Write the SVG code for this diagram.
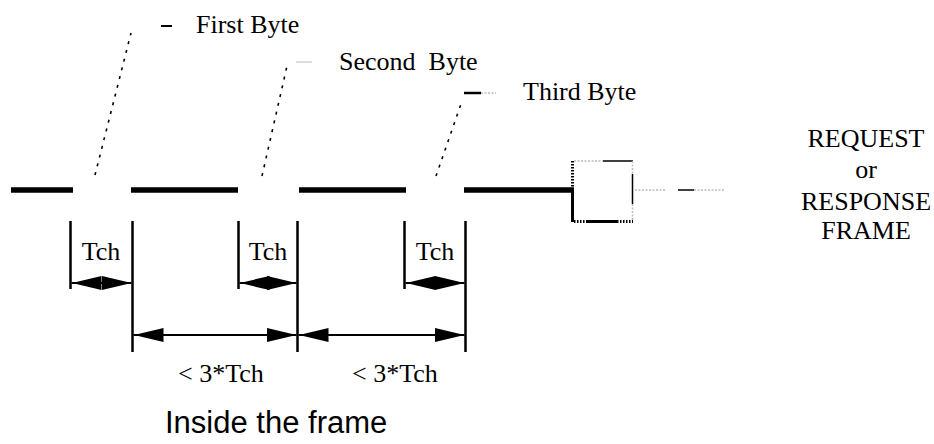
<svg xmlns="http://www.w3.org/2000/svg" width="934" height="444" viewBox="0 0 934 444">
<style>
.serif{font-family:"Liberation Serif","Times New Roman",serif;font-size:26px;fill:#000}
.sans{font-family:"Liberation Sans",Arial,sans-serif;font-size:31px;fill:#000}
.bar{stroke:#000;stroke-width:5.5;fill:none}
.dim{stroke:#000;stroke-width:2.5;fill:none}
.arr{stroke:#000;stroke-width:2;fill:none;marker-start:url(#ah);marker-end:url(#ah)}
.diag{stroke:#000;stroke-width:1.6;fill:none;stroke-dasharray:3 6}
.blk{stroke:#000;fill:none}
.gry{stroke:#bbb;fill:none;stroke-width:1.5;stroke-dasharray:2 1.5}
.hatch{stroke:#000;fill:none;stroke-width:3;stroke-dasharray:1.5 1.5}
</style>
<defs>
<marker id="ah" markerUnits="userSpaceOnUse" markerWidth="30" markerHeight="14" refX="30" refY="7" orient="auto-start-reverse" viewBox="0 0 30 14">
<path d="M0,0 L30,7 L0,14 z" fill="#000"/>
</marker>
</defs>
<rect width="934" height="444" fill="#fff"/>

<g id="signal-line">
<line class="bar" x1="11" y1="190" x2="73" y2="190"/>
<line class="bar" x1="131" y1="190" x2="238" y2="190"/>
<line class="bar" x1="299" y1="190" x2="406" y2="190"/>
<line class="bar" x1="464" y1="190" x2="574" y2="190"/>
</g>

<g id="frame-box">
<line class="hatch" x1="572.5" y1="161" x2="572.5" y2="190"/>
<line class="blk" stroke-width="3" x1="572.5" y1="188" x2="572.5" y2="222"/>
<line class="gry" x1="574" y1="161" x2="603" y2="161"/>
<line class="blk" stroke-width="1.5" x1="603" y1="161" x2="633" y2="161"/>
<line class="gry" x1="632.5" y1="161" x2="632.5" y2="174"/>
<line class="blk" stroke-width="1.5" x1="632.5" y1="174" x2="632.5" y2="204"/>
<line class="gry" x1="632.5" y1="204" x2="632.5" y2="222"/>
<line class="hatch" x1="574" y1="221.5" x2="587" y2="221.5"/>
<line class="blk" stroke-width="3" x1="587" y1="221.5" x2="617" y2="221.5"/>
<line class="hatch" x1="617" y1="221.5" x2="633" y2="221.5"/>
<line class="gry" x1="635" y1="190" x2="666" y2="190"/>
<line class="blk" stroke-width="1.5" x1="678" y1="190" x2="694" y2="190"/>
<line class="gry" x1="694" y1="190" x2="725" y2="190"/>
</g>

<g id="byte-labels">
<g id="first-byte">
<line class="diag" x1="95" y1="175" x2="131" y2="33"/>
<line class="blk" stroke-width="2" x1="161" y1="26" x2="172" y2="26"/>
<text class="serif" x="196" y="33">First Byte</text>
</g>
<g id="second-byte">
<line class="diag" x1="262" y1="176" x2="287" y2="66"/>
<line stroke="#bbb" stroke-width="1" x1="296" y1="62" x2="312" y2="62"/>
<text class="serif" x="339" y="70" xml:space="preserve">Second  Byte</text>
</g>
<g id="third-byte">
<line class="diag" x1="436" y1="176" x2="462" y2="101"/>
<line class="blk" stroke-width="2.5" x1="464" y1="93" x2="481" y2="93"/>
<line class="gry" x1="481" y1="93" x2="496" y2="93"/>
<text class="serif" x="523" y="100">Third Byte</text>
</g>
</g>

<g id="frame-label">
<text class="serif" text-anchor="middle" x="866" y="147">REQUEST</text>
<text class="serif" text-anchor="middle" x="866" y="178">or</text>
<text class="serif" text-anchor="middle" x="866" y="210">RESPONSE</text>
<text class="serif" text-anchor="middle" x="866" y="239">FRAME</text>
</g>

<g id="dimension-lines">
<line class="dim" x1="70.5" y1="221" x2="70.5" y2="289"/>
<line class="dim" x1="132.5" y1="221" x2="132.5" y2="352"/>
<line class="dim" x1="238.5" y1="221" x2="238.5" y2="289"/>
<line class="dim" x1="297.5" y1="221" x2="297.5" y2="352"/>
<line class="dim" x1="404.5" y1="221" x2="404.5" y2="289"/>
<line class="dim" x1="465.5" y1="221" x2="465.5" y2="352"/>
</g>

<g id="connectors">
<line class="arr" x1="71.5" y1="283" x2="131.5" y2="283"/>
<line class="arr" x1="239.5" y1="283" x2="296.5" y2="283"/>
<line class="arr" x1="405.5" y1="283" x2="464.5" y2="283"/>
<line class="arr" x1="133.5" y1="335" x2="296.5" y2="335"/>
<line class="arr" x1="298.5" y1="335" x2="464.5" y2="335"/>
</g>

<g id="timing-labels">
<text class="serif" text-anchor="middle" x="101" y="260">Tch</text>
<text class="serif" text-anchor="middle" x="268" y="260">Tch</text>
<text class="serif" text-anchor="middle" x="435" y="260">Tch</text>
<text class="serif" x="178" y="382">&lt; 3*Tch</text>
<text class="serif" x="352" y="382">&lt; 3*Tch</text>
<text class="sans" x="165" y="433">Inside the frame</text>
</g>
</svg>
